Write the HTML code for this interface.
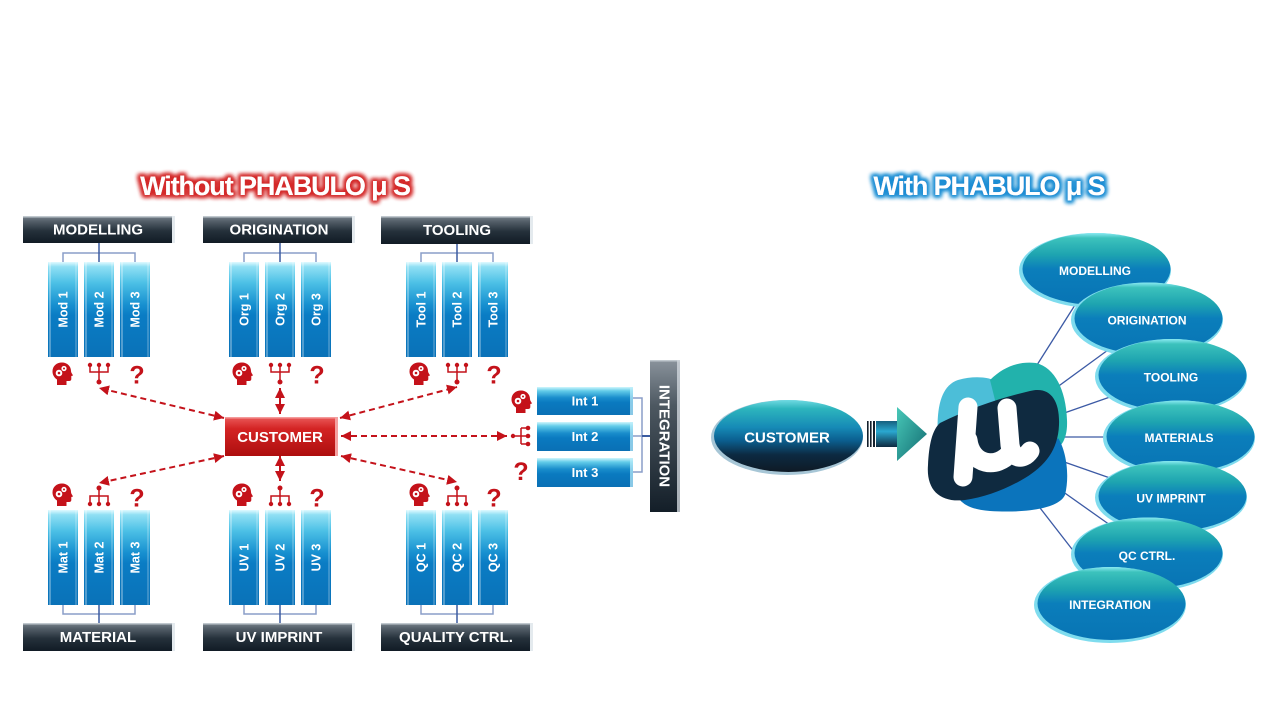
<!DOCTYPE html>
<html><head><meta charset="utf-8">
<style>
html,body{margin:0;padding:0;background:#fff;}
svg{display:block;}
.hd{font-family:"Liberation Sans",sans-serif;font-weight:bold;font-size:15px;fill:#fff;text-anchor:middle;}
.ct{font-family:"Liberation Sans",sans-serif;font-weight:bold;font-size:12.5px;fill:#fff;text-anchor:middle;}
.el{font-family:"Liberation Sans",sans-serif;font-weight:bold;font-size:12px;fill:#fff;text-anchor:middle;}
.qm{font-family:"Liberation Sans",sans-serif;font-weight:bold;font-size:25px;fill:#c4121a;text-anchor:middle;}
.ti{font-family:"Liberation Sans",sans-serif;font-weight:bold;font-size:27px;fill:#fff;text-anchor:middle;letter-spacing:-1.1px;}
</style></head>
<body>
<svg width="1280" height="720" viewBox="0 0 1280 720" xmlns="http://www.w3.org/2000/svg">
<defs>
 <linearGradient id="gHdr" x1="0" y1="0" x2="0" y2="1">
  <stop offset="0" stop-color="#7a848d"/><stop offset="0.18" stop-color="#56616b"/>
  <stop offset="0.55" stop-color="#25313b"/><stop offset="1" stop-color="#111b25"/>
 </linearGradient>
 <linearGradient id="gCol" x1="0" y1="0" x2="0" y2="1">
  <stop offset="0" stop-color="#e0faff"/><stop offset="0.05" stop-color="#90e0f4"/>
  <stop offset="0.22" stop-color="#4cc0e6"/><stop offset="0.45" stop-color="#1790d0"/>
  <stop offset="0.56" stop-color="#0a7cc4"/><stop offset="1" stop-color="#0a72b8"/>
 </linearGradient>
 <linearGradient id="gInt" x1="0" y1="0" x2="0" y2="1">
  <stop offset="0" stop-color="#d0f6fd"/><stop offset="0.14" stop-color="#62cce9"/>
  <stop offset="0.38" stop-color="#1a8ecc"/><stop offset="0.55" stop-color="#0a7ac0"/>
  <stop offset="1" stop-color="#0a70b5"/>
 </linearGradient>
 <linearGradient id="gRed" x1="0" y1="0" x2="0" y2="1">
  <stop offset="0" stop-color="#ea5a5a"/><stop offset="0.3" stop-color="#d42424"/>
  <stop offset="1" stop-color="#ad0e0e"/>
 </linearGradient>
 <linearGradient id="gIntV" x1="0" y1="0" x2="0" y2="1">
  <stop offset="0" stop-color="#8a939c"/><stop offset="0.3" stop-color="#4d5861"/>
  <stop offset="1" stop-color="#131e28"/>
 </linearGradient>
 <linearGradient id="gEll" x1="0" y1="0" x2="0" y2="1">
  <stop offset="0" stop-color="#8aeaf2"/><stop offset="0.07" stop-color="#3cc2bc"/>
  <stop offset="0.3" stop-color="#1ea4b0"/><stop offset="0.5" stop-color="#0b7ebb"/>
  <stop offset="1" stop-color="#0874b4"/>
 </linearGradient>
 <linearGradient id="gCust" x1="0" y1="0" x2="0" y2="1">
  <stop offset="0" stop-color="#70dae2"/><stop offset="0.12" stop-color="#2db5bd"/>
  <stop offset="0.38" stop-color="#168ab6"/><stop offset="0.56" stop-color="#0b5f90"/>
  <stop offset="0.76" stop-color="#0c2a42"/><stop offset="1" stop-color="#0e1a25"/>
 </linearGradient>
 <linearGradient id="gArrB" x1="0" y1="0" x2="0" y2="1">
  <stop offset="0" stop-color="#16607e"/><stop offset="0.4" stop-color="#2aa8d0"/>
  <stop offset="1" stop-color="#0d2a40"/>
 </linearGradient>
 <linearGradient id="gArrH" x1="0" y1="0" x2="1" y2="1">
  <stop offset="0" stop-color="#48c8b8"/><stop offset="1" stop-color="#116a70"/>
 </linearGradient>
 <filter id="glowR" x="-15%" y="-50%" width="130%" height="200%">
  <feMorphology in="SourceAlpha" operator="dilate" radius="2" result="d"/>
  <feGaussianBlur in="d" stdDeviation="2" result="b"/>
  <feFlood flood-color="#d42a2a"/>
  <feComposite in2="b" operator="in" result="g"/>
  <feMerge><feMergeNode in="g"/><feMergeNode in="g"/><feMergeNode in="SourceGraphic"/></feMerge>
 </filter>
 <filter id="glowB" x="-15%" y="-50%" width="130%" height="200%">
  <feMorphology in="SourceAlpha" operator="dilate" radius="2" result="d"/>
  <feGaussianBlur in="d" stdDeviation="2" result="b"/>
  <feFlood flood-color="#1e8ed4"/>
  <feComposite in2="b" operator="in" result="g"/>
  <feMerge><feMergeNode in="g"/><feMergeNode in="g"/><feMergeNode in="SourceGraphic"/></feMerge>
 </filter>
 <marker id="ah" viewBox="0 0 10 10" refX="10" refY="5" markerWidth="10" markerHeight="10" markerUnits="userSpaceOnUse" orient="auto-start-reverse">
  <path d="M0,0 L10,5 L0,10 Z" fill="#c4121a"/>
 </marker>
 <g id="head">
  <path d="M5 23 V17.5 C2 15.5 0.5 12.5 0.5 9.5 C0.5 4 4.5 0.5 10 0.5 C15.5 0.5 19 4.5 19 9 C19 10 19.5 11 20.5 12.5 L21 13.5 L19.3 14 V17 C19.3 18.3 18.5 19 17 19 H14.5 V23 Z" fill="#c4121a"/>
  <circle cx="7" cy="11" r="3.3" fill="#fff"/><circle cx="7" cy="11" r="1.3" fill="#c4121a"/>
  <circle cx="12" cy="6.5" r="2.6" fill="#fff"/><circle cx="12" cy="6.5" r="1" fill="#c4121a"/>
 </g>
 <g id="treeUp" fill="#c4121a" stroke="#c4121a">
  <path d="M-9 0 V7 H9 V0 M0 0 V17" fill="none" stroke-width="1.5"/>
  <circle cx="-9" cy="0" r="2.2" stroke="none"/><circle cx="0" cy="0" r="2.2" stroke="none"/><circle cx="9" cy="0" r="2.2" stroke="none"/>
  <circle cx="0" cy="17" r="2.5" stroke="none"/>
 </g>
 <g id="treeDn" fill="#c4121a" stroke="#c4121a">
  <path d="M0 0 V8 M-9 16 V8 H9 V16 M0 8 V16" fill="none" stroke-width="1.5"/>
  <circle cx="0" cy="0" r="2.5" stroke="none"/>
  <circle cx="-9" cy="16" r="2.2" stroke="none"/><circle cx="0" cy="16" r="2.2" stroke="none"/><circle cx="9" cy="16" r="2.2" stroke="none"/>
 </g>
</defs>

<!-- Titles -->
<text class="ti" x="275" y="195" filter="url(#glowR)">Without PHABULO μ S</text>
<text class="ti" x="989" y="195" filter="url(#glowB)">With PHABULO μ S</text>

<!-- Header boxes -->
<g>
 <rect x="23" y="216" width="152" height="27" fill="url(#gHdr)"/>
 <rect x="23" y="216" width="152" height="1.5" fill="#c0c8ce"/>
 <rect x="172" y="216" width="3" height="27" fill="#e4eaee"/>
 <text class="hd" x="98" y="234.5">MODELLING</text>
 <rect x="203" y="216" width="152" height="27" fill="url(#gHdr)"/>
 <rect x="203" y="216" width="152" height="1.5" fill="#c0c8ce"/>
 <rect x="352" y="216" width="3" height="27" fill="#e4eaee"/>
 <text class="hd" x="279" y="234.5">ORIGINATION</text>
 <rect x="381" y="216" width="152" height="28" fill="url(#gHdr)"/>
 <rect x="381" y="216" width="152" height="1.5" fill="#c0c8ce"/>
 <rect x="530" y="216" width="3" height="28" fill="#e4eaee"/>
 <text class="hd" x="457" y="235">TOOLING</text>

 <rect x="23" y="623" width="152" height="28" fill="url(#gHdr)"/>
 <rect x="23" y="623" width="152" height="1.5" fill="#c0c8ce"/>
 <rect x="172" y="623" width="3" height="28" fill="#e4eaee"/>
 <text class="hd" x="98" y="642">MATERIAL</text>
 <rect x="203" y="623" width="152" height="28" fill="url(#gHdr)"/>
 <rect x="203" y="623" width="152" height="1.5" fill="#c0c8ce"/>
 <rect x="352" y="623" width="3" height="28" fill="#e4eaee"/>
 <text class="hd" x="279" y="642">UV IMPRINT</text>
 <rect x="381" y="623" width="152" height="28" fill="url(#gHdr)"/>
 <rect x="381" y="623" width="152" height="1.5" fill="#c0c8ce"/>
 <rect x="530" y="623" width="3" height="28" fill="#e4eaee"/>
 <text class="hd" x="456" y="642">QUALITY CTRL.</text>
</g>

<!-- Brackets -->
<g fill="none" stroke-width="1.5">
 <path d="M63 262 V253 H135 V262" stroke="#8a9dc8"/>
 <path d="M99 243 V262" stroke="#3b5ba0"/>
 <path d="M244 262 V253 H316 V262" stroke="#8a9dc8"/>
 <path d="M280 243 V262" stroke="#3b5ba0"/>
 <path d="M421 262 V253 H493 V262" stroke="#8a9dc8"/>
 <path d="M457 244 V262" stroke="#3b5ba0"/>

 <path d="M63 605 V614 H135 V605" stroke="#8a9dc8"/>
 <path d="M99 605 V623" stroke="#3b5ba0"/>
 <path d="M244 605 V614 H316 V605" stroke="#8a9dc8"/>
 <path d="M280 605 V623" stroke="#3b5ba0"/>
 <path d="M421 605 V614 H493 V605" stroke="#8a9dc8"/>
 <path d="M457 605 V623" stroke="#3b5ba0"/>

 <path d="M633 398 H642 V472 H633 M633 436 H642" stroke="#8a9dc8"/>
 <path d="M642 436 H650" stroke="#3b5ba0" stroke-width="2"/>
</g>

<!-- Columns -->
<g>
 <rect x="48" y="262" width="30" height="95" fill="url(#gCol)"/>
 <rect x="84" y="262" width="30" height="95" fill="url(#gCol)"/>
 <rect x="120" y="262" width="30" height="95" fill="url(#gCol)"/>
 <rect x="229" y="262" width="30" height="95" fill="url(#gCol)"/>
 <rect x="265" y="262" width="30" height="95" fill="url(#gCol)"/>
 <rect x="301" y="262" width="30" height="95" fill="url(#gCol)"/>
 <rect x="406" y="262" width="30" height="95" fill="url(#gCol)"/>
 <rect x="442" y="262" width="30" height="95" fill="url(#gCol)"/>
 <rect x="478" y="262" width="30" height="95" fill="url(#gCol)"/>

 <rect x="48" y="510" width="30" height="95" fill="url(#gCol)"/>
 <rect x="84" y="510" width="30" height="95" fill="url(#gCol)"/>
 <rect x="120" y="510" width="30" height="95" fill="url(#gCol)"/>
 <rect x="229" y="510" width="30" height="95" fill="url(#gCol)"/>
 <rect x="265" y="510" width="30" height="95" fill="url(#gCol)"/>
 <rect x="301" y="510" width="30" height="95" fill="url(#gCol)"/>
 <rect x="406" y="510" width="30" height="95" fill="url(#gCol)"/>
 <rect x="442" y="510" width="30" height="95" fill="url(#gCol)"/>
 <rect x="478" y="510" width="30" height="95" fill="url(#gCol)"/>
</g>
<g fill="#ffffff" fill-opacity="0.3">
 <rect x="49" y="262" width="2" height="95"/><rect x="85" y="262" width="2" height="95"/><rect x="121" y="262" width="2" height="95"/>
 <rect x="230" y="262" width="2" height="95"/><rect x="266" y="262" width="2" height="95"/><rect x="302" y="262" width="2" height="95"/>
 <rect x="407" y="262" width="2" height="95"/><rect x="443" y="262" width="2" height="95"/><rect x="479" y="262" width="2" height="95"/>
 <rect x="49" y="510" width="2" height="95"/><rect x="85" y="510" width="2" height="95"/><rect x="121" y="510" width="2" height="95"/>
 <rect x="230" y="510" width="2" height="95"/><rect x="266" y="510" width="2" height="95"/><rect x="302" y="510" width="2" height="95"/>
 <rect x="407" y="510" width="2" height="95"/><rect x="443" y="510" width="2" height="95"/><rect x="479" y="510" width="2" height="95"/>
</g>
<g fill="#ffffff" fill-opacity="0.2">
 <rect x="75" y="262" width="2" height="95"/><rect x="111" y="262" width="2" height="95"/><rect x="147" y="262" width="2" height="95"/>
 <rect x="256" y="262" width="2" height="95"/><rect x="292" y="262" width="2" height="95"/><rect x="328" y="262" width="2" height="95"/>
 <rect x="433" y="262" width="2" height="95"/><rect x="469" y="262" width="2" height="95"/><rect x="505" y="262" width="2" height="95"/>
 <rect x="75" y="510" width="2" height="95"/><rect x="111" y="510" width="2" height="95"/><rect x="147" y="510" width="2" height="95"/>
 <rect x="256" y="510" width="2" height="95"/><rect x="292" y="510" width="2" height="95"/><rect x="328" y="510" width="2" height="95"/>
 <rect x="433" y="510" width="2" height="95"/><rect x="469" y="510" width="2" height="95"/><rect x="505" y="510" width="2" height="95"/>
</g>
<g>
 <text class="ct" x="63" y="314" transform="rotate(-90 63 309.5)">Mod 1</text>
 <text class="ct" x="99" y="314" transform="rotate(-90 99 309.5)">Mod 2</text>
 <text class="ct" x="135" y="314" transform="rotate(-90 135 309.5)">Mod 3</text>
 <text class="ct" x="244" y="314" transform="rotate(-90 244 309.5)">Org 1</text>
 <text class="ct" x="280" y="314" transform="rotate(-90 280 309.5)">Org 2</text>
 <text class="ct" x="316" y="314" transform="rotate(-90 316 309.5)">Org 3</text>
 <text class="ct" x="421" y="314" transform="rotate(-90 421 309.5)">Tool 1</text>
 <text class="ct" x="457" y="314" transform="rotate(-90 457 309.5)">Tool 2</text>
 <text class="ct" x="493" y="314" transform="rotate(-90 493 309.5)">Tool 3</text>

 <text class="ct" x="63" y="562" transform="rotate(-90 63 557.5)">Mat 1</text>
 <text class="ct" x="99" y="562" transform="rotate(-90 99 557.5)">Mat 2</text>
 <text class="ct" x="135" y="562" transform="rotate(-90 135 557.5)">Mat 3</text>
 <text class="ct" x="244" y="562" transform="rotate(-90 244 557.5)">UV 1</text>
 <text class="ct" x="280" y="562" transform="rotate(-90 280 557.5)">UV 2</text>
 <text class="ct" x="316" y="562" transform="rotate(-90 316 557.5)">UV 3</text>
 <text class="ct" x="421" y="562" transform="rotate(-90 421 557.5)">QC 1</text>
 <text class="ct" x="457" y="562" transform="rotate(-90 457 557.5)">QC 2</text>
 <text class="ct" x="493" y="562" transform="rotate(-90 493 557.5)">QC 3</text>
</g>

<!-- Int boxes -->
<g>
 <rect x="537" y="387" width="96" height="28" fill="url(#gInt)"/>
 <rect x="630" y="387" width="3" height="28" fill="#bfeefb" fill-opacity="0.7"/>
 <text class="ct" x="585" y="405.5" style="font-size:13px">Int 1</text>
 <rect x="537" y="422" width="96" height="29" fill="url(#gInt)"/>
 <rect x="630" y="422" width="3" height="29" fill="#bfeefb" fill-opacity="0.7"/>
 <text class="ct" x="585" y="441" style="font-size:13px">Int 2</text>
 <rect x="537" y="458" width="96" height="29" fill="url(#gInt)"/>
 <rect x="630" y="458" width="3" height="29" fill="#bfeefb" fill-opacity="0.7"/>
 <text class="ct" x="585" y="477" style="font-size:13px">Int 3</text>
</g>

<!-- INTEGRATION vertical -->
<rect x="650" y="360" width="30" height="152" fill="url(#gIntV)"/>
<rect x="650" y="360" width="30" height="1.5" fill="#c0c8ce"/>
<rect x="677" y="360" width="3" height="152" fill="#cfd6dc" fill-opacity="0.8"/>
<text class="hd" x="665" y="441.4" transform="rotate(90 665 436)">INTEGRATION</text>

<!-- CUSTOMER red -->
<rect x="225" y="417" width="113" height="39" fill="url(#gRed)"/>
<rect x="225" y="417" width="113" height="1.5" fill="#f49a9a"/>
<rect x="335" y="417" width="3" height="39" fill="#f4a0a0"/>
<text class="hd" x="280" y="442">CUSTOMER</text>

<!-- Dashed arrows -->
<g stroke="#c4121a" stroke-width="2" stroke-dasharray="6 4" fill="none" marker-start="url(#ah)" marker-end="url(#ah)">
 <line x1="224" y1="418" x2="99" y2="388"/>
 <line x1="280" y1="414" x2="280" y2="388"/>
 <line x1="340" y1="418" x2="457" y2="387"/>
 <line x1="341" y1="436" x2="507" y2="436"/>
 <line x1="224" y1="456" x2="99" y2="483"/>
 <line x1="280" y1="456" x2="280" y2="481"/>
 <line x1="341" y1="456" x2="457" y2="482"/>
</g>

<!-- Icons -->
<use href="#head" x="52" y="362"/>
<use href="#head" x="232" y="362"/>
<use href="#head" x="409" y="362"/>
<use href="#treeUp" x="99" y="365"/>
<use href="#treeUp" x="280" y="365"/>
<use href="#treeUp" x="457" y="365"/>
<text class="qm" x="137" y="383.5">?</text>
<text class="qm" x="317" y="383.5">?</text>
<text class="qm" x="494" y="383.5">?</text>

<use href="#head" x="52" y="483"/>
<use href="#head" x="232" y="483"/>
<use href="#head" x="409" y="483"/>
<use href="#treeDn" x="99" y="488"/>
<use href="#treeDn" x="280" y="488"/>
<use href="#treeDn" x="457" y="488"/>
<text class="qm" x="137" y="506.5">?</text>
<text class="qm" x="317" y="506.5">?</text>
<text class="qm" x="494" y="506.5">?</text>

<use href="#head" x="511" y="390"/>
<g fill="#c4121a" stroke="#c4121a">
 <path d="M513 436 H521 M521 428 V444 M521 428 H528 M521 436 H528 M521 444 H528" stroke-width="1.5" fill="none"/>
 <circle cx="513" cy="436" r="2.2" stroke="none"/>
 <circle cx="528" cy="428" r="2.3" stroke="none"/><circle cx="528" cy="436" r="2.3" stroke="none"/><circle cx="528" cy="444" r="2.3" stroke="none"/>
</g>
<text class="qm" x="521" y="480">?</text>

<!-- RIGHT SIDE -->
<ellipse cx="787" cy="437.5" rx="76" ry="37.5" fill="#a7c6d6"/>
<ellipse cx="788.5" cy="436" rx="74.5" ry="36" fill="url(#gCust)"/>
<text class="hd" x="787" y="442.5">CUSTOMER</text>

<rect x="867" y="421" width="1.6" height="26" fill="#14202c"/>
<rect x="870" y="421" width="1.6" height="26" fill="#14202c"/>
<rect x="873" y="421" width="2" height="26" fill="#14202c"/>
<rect x="876" y="421" width="22" height="26" fill="url(#gArrB)"/>
<polygon points="897,407 927,434 897,461" fill="url(#gArrH)"/>

<g stroke="#3c5aa5" stroke-width="1.3">
 <line x1="1030" y1="376" x2="1075" y2="305"/>
 <line x1="1045" y1="396" x2="1108" y2="350"/>
 <line x1="1050" y1="418" x2="1110" y2="397"/>
 <line x1="1050" y1="437" x2="1106" y2="437"/>
 <line x1="1050" y1="457" x2="1110" y2="478"/>
 <line x1="1045" y1="479" x2="1110" y2="525"/>
 <line x1="1030" y1="495" x2="1075" y2="553"/>
</g>

<!-- logo -->
<path d="M938 440 C936 410 940 386 958 380 C980 374 1000 378 1010 392 L1000 440 Z" fill="#4cbed8"/>
<path d="M990 380 C1004 366 1020 361 1036 363 C1056 368 1066 392 1067 420 C1068 440 1060 450 1050 452 L1000 420 Z" fill="#22b2ac"/>
<path d="M960 500 L1040 462 L1058 438 C1066 450 1070 475 1065 495 C1058 510 1020 513 990 511 C975 510 965 506 960 500 Z" fill="#0b74bc"/>
<path d="M940 423 C970 408 1000 398 1030 391 C1050 386 1060 400 1059 425 C1058 450 1045 466 1025 478 C1005 490 985 497 965 500 C940 503 926 490 928 465 C929 445 932 430 940 423 Z" fill="#0f2a40"/>
<g stroke="#fff" stroke-width="19" stroke-linecap="round" stroke-linejoin="round" fill="none">
 <path d="M968 407 L963 477"/>
 <path d="M968 440 C971 465 997 470 1011 452"/>
 <path d="M1007 408 L1010 445 C1012 459 1023 461 1030 451"/>
</g>

<!-- Right ellipses -->
<g>
 <ellipse cx="1095" cy="270.5" rx="76" ry="37.5" fill="#7fdcee"/>
 <ellipse cx="1096.5" cy="269" rx="74" ry="36" fill="url(#gEll)"/>
 <text class="el" x="1095" y="275">MODELLING</text>

 <ellipse cx="1147" cy="320" rx="76" ry="37.5" fill="#7fdcee"/>
 <ellipse cx="1148.5" cy="318.5" rx="74" ry="36" fill="url(#gEll)"/>
 <text class="el" x="1147" y="324.5">ORIGINATION</text>

 <ellipse cx="1171" cy="376.5" rx="76" ry="37.5" fill="#7fdcee"/>
 <ellipse cx="1172.5" cy="375" rx="74" ry="36" fill="url(#gEll)"/>
 <text class="el" x="1171" y="381.5">TOOLING</text>

 <ellipse cx="1179" cy="438" rx="76" ry="37.5" fill="#7fdcee"/>
 <ellipse cx="1180.5" cy="436.5" rx="74" ry="36" fill="url(#gEll)"/>
 <text class="el" x="1179" y="442">MATERIALS</text>

 <ellipse cx="1171" cy="497.5" rx="76" ry="36.5" fill="#7fdcee"/>
 <ellipse cx="1172.5" cy="496" rx="74" ry="35" fill="url(#gEll)"/>
 <text class="el" x="1171" y="502.5">UV IMPRINT</text>

 <ellipse cx="1147" cy="554.5" rx="76" ry="37" fill="#7fdcee"/>
 <ellipse cx="1148.5" cy="553" rx="74" ry="35.5" fill="url(#gEll)"/>
 <text class="el" x="1147" y="560">QC CTRL.</text>

 <ellipse cx="1110" cy="605" rx="76" ry="38" fill="#7fdcee"/>
 <ellipse cx="1111.5" cy="603.5" rx="74" ry="36.5" fill="url(#gEll)"/>
 <text class="el" x="1110" y="609">INTEGRATION</text>
</g>
</svg>
</body></html>
